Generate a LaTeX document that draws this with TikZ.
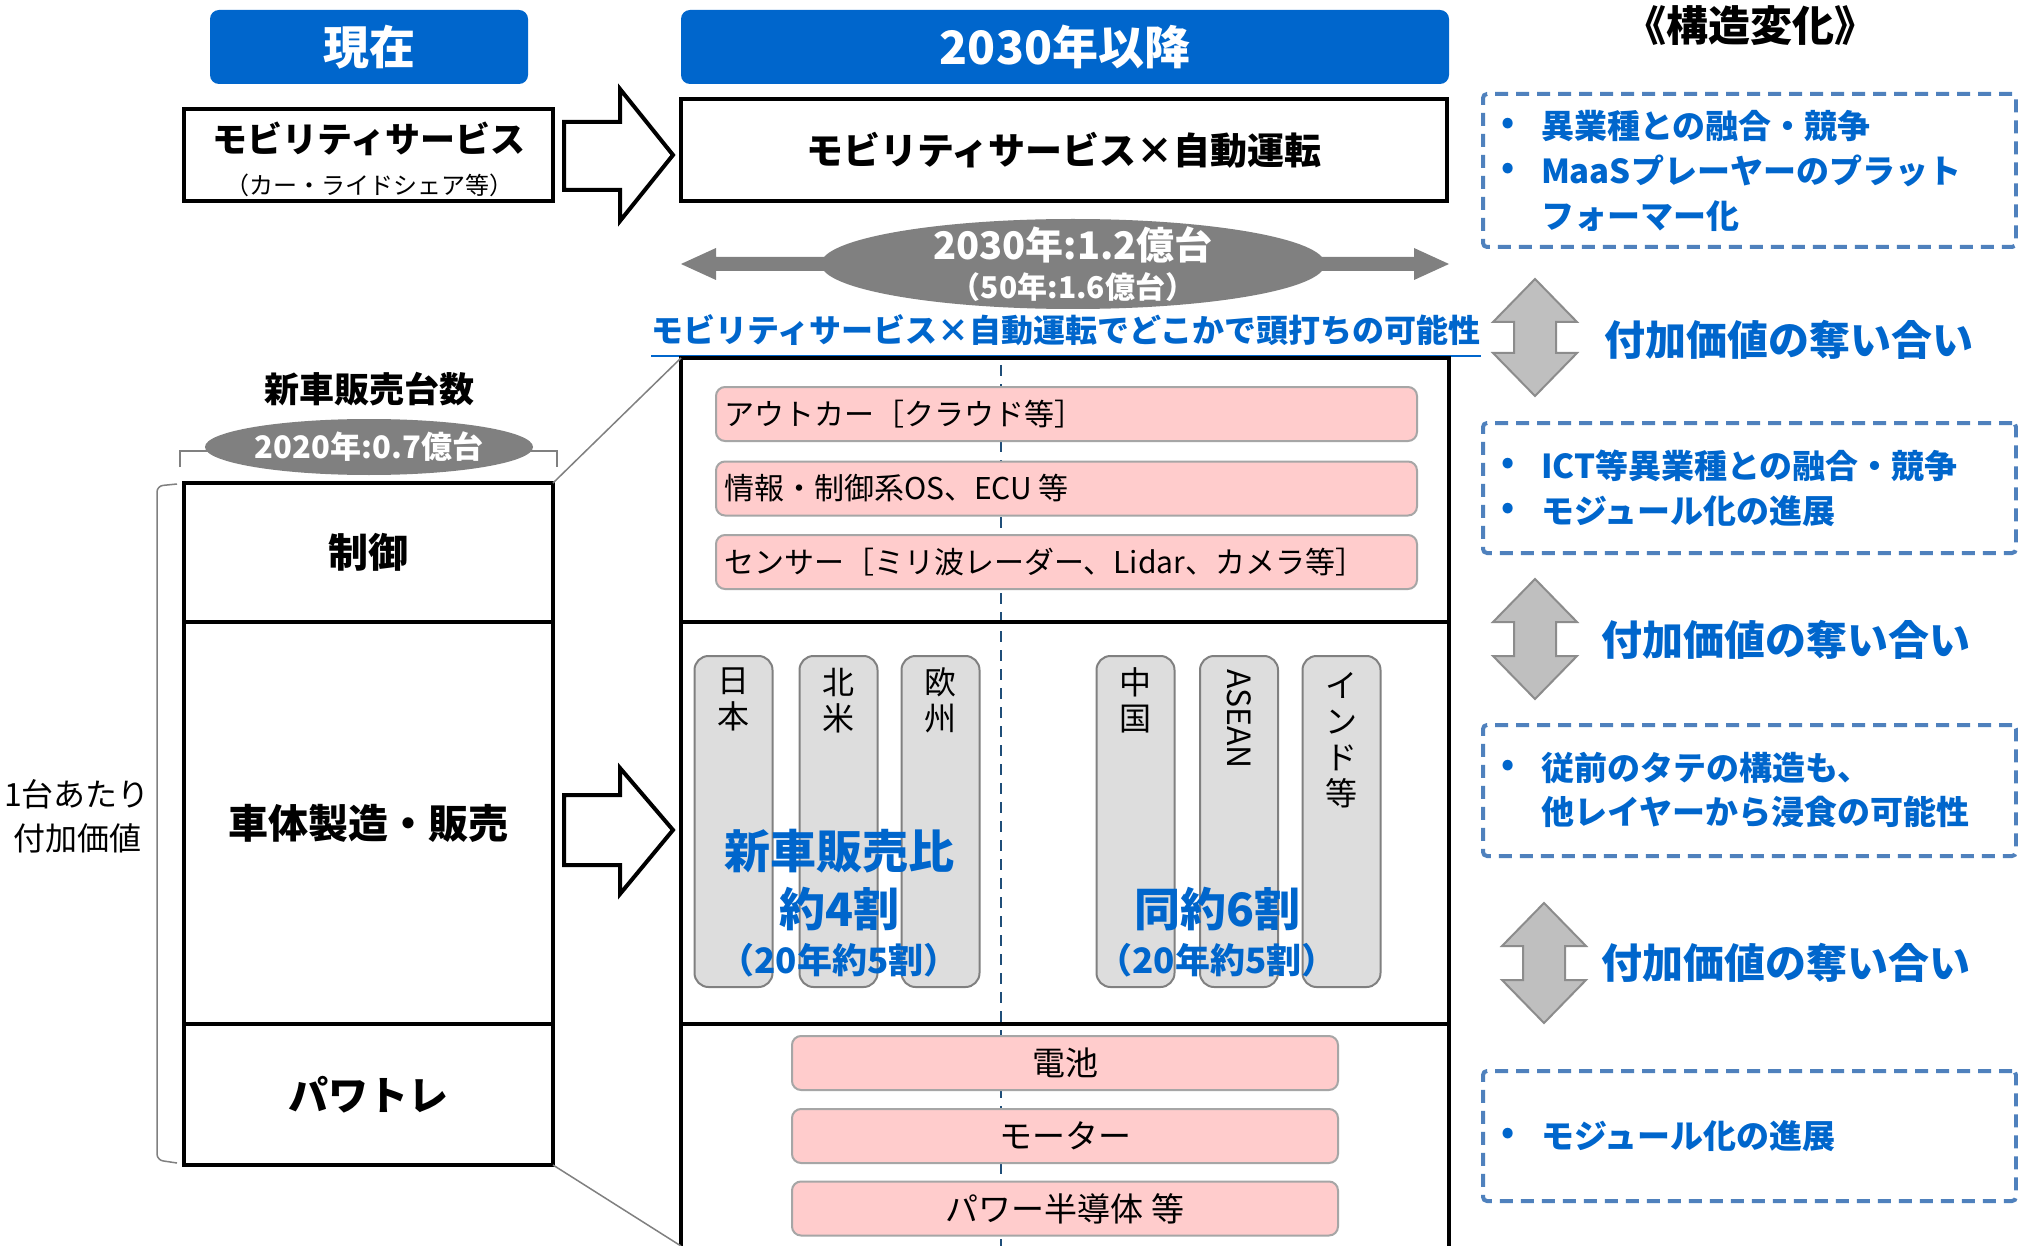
\documentclass[tikz,border=0pt]{standalone}
\usepackage{fontspec}
\setmainfont{Noto Sans CJK JP}
\usetikzlibrary{calc,shapes.geometric}
\definecolor{myblue}{HTML}{0066CC}
\definecolor{dashblue}{HTML}{4F81BD}
\definecolor{ellgray}{HTML}{808080}
\definecolor{pinkf}{HTML}{FFCCCC}
\definecolor{pinkd}{HTML}{A6A6A6}
\definecolor{pillf}{HTML}{DDDDDD}
\definecolor{pilld}{HTML}{808080}
\definecolor{garf}{HTML}{BFBFBF}
\definecolor{gard}{HTML}{8C8C8C}
\definecolor{cline}{HTML}{1F4E79}
\newcommand\fsz[2]{\fontsize{#1}{#2}\selectfont}
\newcommand\vdarrow[3]{%
  \draw[garrow] (#1,#2) -- ({#1+42},{#2+43}) -- ({#1+21},{#2+43}) -- ({#1+21},{#3-43}) -- ({#1+42},{#3-43}) -- (#1,#3) -- ({#1-42},{#3-43}) -- ({#1-21},{#3-43}) -- ({#1-21},{#2+43}) -- ({#1-42},{#2+43}) -- cycle;}
\begin{document}
\begin{tikzpicture}[x=1pt,y=-1pt,
  every node/.style={inner sep=0pt, outer sep=0pt},
  hdr/.style={rounded corners=9pt, fill=myblue, text=white, font=\bfseries\fsz{46}{52}},
  blk/.style={draw=black, line width=4pt},
  pbar/.style={rounded corners=9pt, fill=pinkf, draw=pinkd, line width=2pt, minimum height=54pt},
  pill/.style={rounded corners=14pt, fill=pillf, draw=pilld, line width=2pt, minimum width=78pt, minimum height=331pt},
  dbox/.style={draw=dashblue, line width=4pt, dash pattern=on 13pt off 8pt, rounded corners=4pt, minimum width=533pt},
  garrow/.style={fill=garf, draw=gard, line width=2pt, line join=miter},
  warrow/.style={fill=white, draw=black, line width=4pt, line join=miter},
  btxt/.style={text=myblue, font=\bfseries\fsz{33}{40}, anchor=west},
  bdot/.style={text=myblue, font=\bfseries\fsz{33}{40}},
  vtxt/.style={text=myblue, font=\bfseries\fsz{41}{48}, anchor=west},
  ptxt/.style={font=\fsz{30}{36}},
  qtxt/.style={font=\fsz{33}{38}},
  pilltxt/.style={font=\fsz{32}{36}, align=center, anchor=north},
  bigblue/.style={text=myblue, font=\bfseries\fsz{46}{52}},
  midblue/.style={text=myblue, font=\bfseries\fsz{35}{40}},
  thin/.style={draw=ellgray, line width=1.5pt}
]
\useasboundingbox (0,0) rectangle (2018,1246);
\fill[white] (0,0) rectangle (2018,1246);

% headers
\node[hdr, minimum width=318pt, minimum height=74pt] (h1) at (369,47) {現在};
\node[hdr, minimum width=768pt, minimum height=74pt] (h2) at (1065,47) {2030年以降};
\node[font=\bfseries\fsz{42}{48}] (kz) at (1750,26) {《構造変化》};

% top row
\node[blk, minimum width=369pt, minimum height=92pt] (mob) at (368.5,155) {};
\node[font=\bfseries\fsz{35}{40}] (mobt) at (369,139) {モビリティサービス};
\node[font=\fsz{24}{28}] (mobs) at (369,185) {（カー・ライドシェア等）};
\node[blk, minimum width=766pt, minimum height=102pt, font=\bfseries\fsz{37}{42}] (mainb) at (1064,150) {モビリティサービス×自動運転};
\draw[warrow] (564,122) -- (620,122) -- (620,89) -- (673,155) -- (620,221) -- (620,190) -- (564,190) -- cycle;

% gray double arrow + ellipse
\fill[ellgray] (681,264) -- (716,248) -- (716,257) -- (1414,257) -- (1414,248) -- (1449,264) -- (1414,280) -- (1414,271) -- (716,271) -- (716,280) -- cycle;
\node[ellipse, fill=ellgray, minimum width=504pt, minimum height=90pt] (ell1) at (1073,264) {};
\node[text=white, font=\bfseries\fsz{38}{44}] (e1a) at (1073,245) {2030年:1.2億台};
\node[text=white, font=\bfseries\fsz{30}{36}] (e1b) at (1073,287) {（50年:1.6億台）};

% underlined blue
\node[text=myblue, font=\bfseries\fsz{32}{38}] (ul) at (1066,330) {モビリティサービス×自動運転でどこかで頭打ちの可能性};
\draw[myblue, line width=2pt] ([yshift=-10pt]ul.south west) -- ([yshift=-10pt]ul.south east);

% left column
\node[font=\bfseries\fsz{35}{40}] (shs) at (369,389) {新車販売台数};
\draw[thin] (180,467) -- (180,451) -- (557,451) -- (557,467);
\node[ellipse, fill=ellgray, minimum width=328pt, minimum height=56pt] (ell2) at (369,447) {};
\node[text=white, font=\bfseries\fsz{31}{36}] (e2) at (369,447) {2020年:0.7億台};

\node[blk, minimum width=369pt, minimum height=139pt, font=\bfseries\fsz{40}{46}] (ctrl) at (368.5,552.5) {制御};
\node[blk, minimum width=369pt, minimum height=402pt, font=\bfseries\fsz{40}{46}] (body) at (368.5,823) {車体製造・販売};
\node[blk, minimum width=369pt, minimum height=141pt, font=\bfseries\fsz{40}{46}] (ptr) at (368.5,1094.5) {パワトレ};
\draw[thin, rounded corners=6pt] (177,484) -- (157,486) -- (157,1160) -- (177,1163);
\node[font=\fsz{32}{44}, align=center] (per) at (77,816) {1台あたり\\付加価値};

\draw[warrow] (564,795) -- (620,795) -- (620,768) -- (673,830) -- (620,894) -- (620,865) -- (564,865) -- cycle;

% right stack
\draw[cline, line width=2.5pt, dash pattern=on 11pt off 8pt] (1001,365) -- (1001,1246);
\node[minimum width=768pt, minimum height=264pt] (top) at (1065,490) {};
\node[minimum width=768pt, minimum height=402pt] (mid) at (1065,823) {};
\coordinate (botl) at (681,1250);
\coordinate (botr) at (1449,1250);

\node[pbar, minimum width=701pt] (p1) at (1066.5,414) {};
\node[pbar, minimum width=701pt] (p2) at (1066.5,488.5) {};
\node[pbar, minimum width=701pt] (p3) at (1066.5,562) {};
\node[ptxt, anchor=west] at ([xshift=8pt]p1.west) {アウトカー［クラウド等］};
\node[ptxt, anchor=west] at ([xshift=8pt]p2.west) {情報・制御系OS、ECU 等};
\node[ptxt, anchor=west] at ([xshift=8pt]p3.west) {センサー［ミリ波レーダー、Lidar、カメラ等］};

\node[pill] (c1) at (733.5,821.5) {};
\node[pill] (c2) at (838.5,821.5) {};
\node[pill] (c3) at (940.5,821.5) {};
\node[pill] (c4) at (1135.5,821.5) {};
\node[pill] (c5) at (1239,821.5) {};
\node[pill] (c6) at (1341.5,821.5) {};
\node[pilltxt] at (733.5,668) {日\\本};
\node[pilltxt] at (838.5,668) {北\\米};
\node[pilltxt] at (940.5,668) {欧\\州};
\node[pilltxt] at (1135.5,668) {中\\国};
\node[font=\fsz{32}{36}, rotate=-90, anchor=west] at (1239,669) {ASEAN};
\node[pilltxt] at (1341.5,672) {イ\\ン\\ド\\等};

\node[bigblue] (t1) at (839,851) {新車販売比};
\node[bigblue] (t2) at (839,909) {約4割};
\node[midblue] (t3) at (839,960) {（20年約5割）};
\node[bigblue] (t4) at (1217,909) {同約6割};
\node[midblue] (t5) at (1217,960) {（20年約5割）};

\node[pbar, minimum width=546pt, qtxt] (q1) at (1065,1063) {電池};
\node[pbar, minimum width=546pt, qtxt] (q2) at (1065,1136) {モーター};
\node[pbar, minimum width=546pt, qtxt] (q3) at (1065,1208.5) {パワー半導体 等};

\draw[blk] (top.north west) rectangle (top.south east);
\draw[blk] (mid.north west) rectangle (mid.south east);
\draw[blk] (botl) -- (mid.south west) -- (mid.south east) -- (botr);

% zoom lines
\draw[thin] (ctrl.north east) -- (top.north west);
\draw[thin] (ptr.south east) -- (botl |- 0,1246);

% right column
\node[dbox, minimum height=153pt] (d1) at (1749.5,170.5) {};
\node[dbox, minimum height=130pt] (d2) at (1749.5,488) {};
\node[dbox, minimum height=131pt] (d3) at (1749.5,790.5) {};
\node[dbox, minimum height=130pt] (d4) at (1749.5,1136) {};

\node[bdot] at (1508,126) {•};
\node[btxt] at (1541,126) {異業種との融合・競争};
\node[bdot] at (1508,171) {•};
\node[btxt] at (1541,171) {MaaSプレーヤーのプラット};
\node[btxt] at (1541,216) {フォーマー化};

\node[bdot] at (1508,466) {•};
\node[btxt] at (1541,466) {ICT等異業種との融合・競争};
\node[bdot] at (1508,511) {•};
\node[btxt] at (1541,511) {モジュール化の進展};

\node[bdot] at (1508,768) {•};
\node[btxt] at (1541,768) {従前のタテの構造も、};
\node[btxt] at (1541,812) {他レイヤーから浸食の可能性};

\node[bdot] at (1508,1136) {•};
\node[btxt] at (1541,1136) {モジュール化の進展};

\vdarrow{1535}{279}{396}
\vdarrow{1535}{579}{699}
\vdarrow{1544}{903}{1023}
\node[vtxt] (v1) at (1604,340) {付加価値の奪い合い};
\node[vtxt] (v2) at (1601,640) {付加価値の奪い合い};
\node[vtxt] (v3) at (1601,963) {付加価値の奪い合い};
\end{tikzpicture}
\end{document}
